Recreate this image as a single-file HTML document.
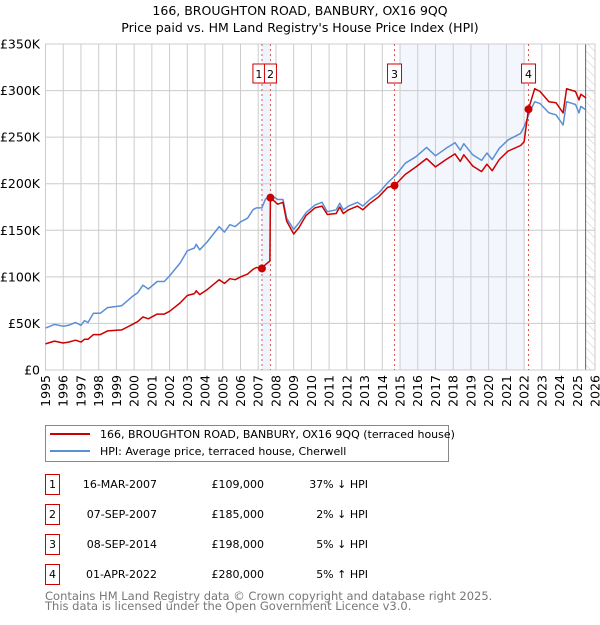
<!DOCTYPE html>
<html><head><meta charset="utf-8"><style>
body{margin:0;background:#fff;font-family:"Liberation Sans","DejaVu Sans",sans-serif;}
svg text{font-family:"DejaVu Sans","Liberation Sans",sans-serif;}
</style></head><body>
<svg id="c" width="600" height="620" xmlns="http://www.w3.org/2000/svg">
<defs><pattern id="hatch" width="6" height="6" patternUnits="userSpaceOnUse" patternTransform="rotate(-45)"><line x1="0" y1="0" x2="0" y2="6" stroke="#ccc" stroke-width="1"/></pattern></defs>
<text x="300" y="15" text-anchor="middle" font-size="12.5" fill="#000">166, BROUGHTON ROAD, BANBURY, OX16 9QQ</text>
<text x="300" y="32" text-anchor="middle" font-size="12.5" fill="#000">Price paid vs. HM Land Registry's House Price Index (HPI)</text>
<g id="grid"></g><g id="marks"></g>
<g>
<rect x="45.5" y="425.5" width="403" height="36" fill="#fff" stroke="#888"/>
<line x1="50" y1="434" x2="90" y2="434" stroke="#cc0000" stroke-width="2"/>
<text x="100" y="438" font-size="11">166, BROUGHTON ROAD, BANBURY, OX16 9QQ (terraced house)</text>
<line x1="50" y1="451" x2="90" y2="451" stroke="#5b8fd4" stroke-width="2"/>
<text x="100" y="455" font-size="11">HPI: Average price, terraced house, Cherwell</text>
</g>
<g id="table"></g>
<text x="45" y="600" font-size="11.5" fill="#777">Contains HM Land Registry data © Crown copyright and database right 2025.</text>
<text x="45" y="610" font-size="11.5" fill="#777">This data is licensed under the Open Government Licence v3.0.</text>
</svg>
<script>
const hpiYears=[1995.0,1995.5,1996.0,1996.3,1996.7,1997.0,1997.2,1997.4,1997.7,1998.1,1998.5,1999.3,1999.9,2000.2,2000.5,2000.8,2001.3,2001.7,2002.0,2002.6,2003.0,2003.4,2003.5,2003.7,2004.1,2004.8,2005.1,2005.4,2005.7,2006.0,2006.4,2006.7,2006.9,2007.2,2007.4,2007.7,2008.1,2008.4,2008.6,2009.0,2009.3,2009.7,2010.2,2010.6,2010.9,2011.4,2011.6,2011.8,2012.1,2012.6,2012.9,2013.3,2013.8,2014.3,2014.8,2015.3,2015.9,2016.5,2017.0,2017.6,2018.1,2018.4,2018.6,2019.1,2019.6,2019.9,2020.2,2020.6,2021.1,2021.8,2022.0,2022.3,2022.6,2022.9,2023.4,2023.8,2024.2,2024.4,2024.9,2025.1,2025.2,2025.5];
const hpiValues=[45,49,47,48,51,48,53,51,61,61,67,69,79,83,91,87,95,95,101,115,128,131,135,129,137,154,148,156,154,159,163,172,174,174,183,188,183,183,163,151,158,169,177,180,170,172,179,172,176,180,176,183,190,201,210,222,229,239,230,238,244,236,243,231,225,233,226,238,247,254,261,276,288,286,276,274,263,288,285,276,283,279];
const propYears=[1995.0,1995.5,1996.0,1996.3,1996.7,1997.0,1997.2,1997.4,1997.7,1998.1,1998.5,1999.3,1999.9,2000.2,2000.5,2000.8,2001.3,2001.7,2002.0,2002.6,2003.0,2003.4,2003.5,2003.7,2004.1,2004.8,2005.1,2005.4,2005.7,2006.0,2006.4,2006.7,2006.9,2007.21,2007.4,2007.66,2007.69,2008.1,2008.4,2008.6,2009.0,2009.3,2009.7,2010.2,2010.6,2010.9,2011.4,2011.6,2011.8,2012.1,2012.6,2012.9,2013.3,2013.8,2014.3,2014.69,2015.3,2015.9,2016.5,2017.0,2017.6,2018.1,2018.4,2018.6,2019.1,2019.6,2019.9,2020.2,2020.6,2021.1,2021.8,2022.0,2022.25,2022.6,2022.9,2023.4,2023.8,2024.2,2024.4,2024.9,2025.1,2025.2,2025.5];
const propValues=[28,31,29,30,32,30,33,33,38,38,42,43,49,52,57,55,60,60,63,72,80,82,85,81,86,97,93,98,97,100,103,108,110,109,113,117,185,178,180,160,146,153,166,174,176,167,168,175,168,172,176,172,179,186,196,198,210,218,227,218,226,232,224,231,219,213,221,214,226,235,241,245,280,302,299,288,287,276,302,299,290,296,292];
const saleLabels=["1","2","3","4"];
const saleYears=[2007.21,2007.69,2014.69,2022.25];
const saleValues=[109,185,198,280];
const saleDates=["16-MAR-2007","07-SEP-2007","08-SEP-2014","01-APR-2022"];
const salePrices=["£109,000","£185,000","£198,000","£280,000"];
const saleHpi=["37% ↓ HPI","2% ↓ HPI","5% ↓ HPI","5% ↑ HPI"];
const yTicks=[0,50,100,150,200,250,300,350];
const yTickLabels=["£0","£50K","£100K","£150K","£200K","£250K","£300K","£350K"];
const xTicks=[1995,1996,1997,1998,1999,2000,2001,2002,2003,2004,2005,2006,2007,2008,2009,2010,2011,2012,2013,2014,2015,2016,2017,2018,2019,2020,2021,2022,2023,2024,2025,2026];

const X0=45.5,X1=595,Y0=370,Y1=44;
const sx=y=>X0+(y-1995)*(X1-X0)/31;
const sy=v=>Y0-v*(Y0-Y1)/350;
const NS="http://www.w3.org/2000/svg";
function mk(tag,attrs,parent,txt){const e=document.createElementNS(NS,tag);for(const k in attrs)e.setAttribute(k,attrs[k]);if(txt!==undefined)e.textContent=txt;parent.appendChild(e);return e;}
const grid=document.getElementById('grid'),marks=document.getElementById('marks'),table=document.getElementById('table');
mk('rect',{x:X0,y:Y1,width:X1-X0,height:Y0-Y1,fill:'#fff'},grid);
// shaded regions
let r=mk('rect',{x:sx(saleYears[0]),y:Y1,width:sx(saleYears[1])-sx(saleYears[0]),height:Y0-Y1,fill:'#eef3fc'},grid);

r=mk('rect',{x:sx(2015),y:Y1,width:sx(2022)-sx(2015),height:Y0-Y1,fill:'#f3f6fd'},grid);

r=mk('rect',{x:sx(2025.47),y:Y1,width:X1-sx(2025.47),height:Y0-Y1,fill:'url(#hatch)'},grid);

yTicks.forEach((t,i)=>{
  mk('line',{x1:X0,x2:X1,y1:sy(t),y2:sy(t),stroke:'#ccc','stroke-width':1},grid);
  const tx=mk('text',{x:40,y:sy(t)+4.5,'text-anchor':'end','font-size':12.5},grid,yTickLabels[i]);
  
  
});
xTicks.forEach(t=>{
  mk('line',{x1:sx(t),x2:sx(t),y1:Y1,y2:Y0,stroke:'#ccc','stroke-width':1},grid);
  const tx=mk('text',{x:0,y:0,'text-anchor':'end','font-size':12.5,transform:`translate(${sx(t)+4.5},${Y0+5}) rotate(-90)`},grid,String(t));
  
  
});
mk('line',{x1:sx(2025.47),x2:sx(2025.47),y1:Y1,y2:Y0,stroke:'#666','stroke-width':1},grid);
mk('rect',{x:X0,y:Y1,width:X1-X0,height:Y0-Y1,fill:'none',stroke:'#ccc'},grid);
saleYears.forEach((y,i)=>{
  const l=mk('line',{x1:sx(y),x2:sx(y),y1:Y1,y2:Y0,stroke:'#e05555','stroke-width':1,'stroke-dasharray':'2,3'},marks);
  
  
});
const pts=(xs,vs)=>xs.map((y,i)=>sx(y).toFixed(1)+','+sy(vs[i]).toFixed(1)).join(' ');
let p=mk('polyline',{points:pts(hpiYears,hpiValues),fill:'none',stroke:'#5b8fd4','stroke-width':1.5,'stroke-linejoin':'round'},marks);

p=mk('polyline',{points:pts(propYears,propValues),fill:'none',stroke:'#cc0000','stroke-width':1.5,'stroke-linejoin':'round'},marks);

saleYears.forEach((y,i)=>{
  const c=mk('circle',{cx:sx(y),cy:sy(saleValues[i]),r:4,fill:'#cc0000'},marks);
  
  
  const bx=i===0?sx(y)-9:(i===1?sx(y)-6:sx(y)-7);
  const g=mk('g',{},marks);
  
  
  mk('rect',{x:bx,y:64,width:i<2?12:14,height:19,fill:'#fff',stroke:'#cc0000'},g);
  mk('text',{x:bx+(i<2?6:7),y:78,'text-anchor':'middle','font-size':11},g,saleLabels[i]);
});
saleLabels.forEach((lab,i)=>{
  const yy=483+i*30;
  const g=mk('g',{},table);
  
  
  mk('rect',{x:45.5,y:yy-8.5,width:14,height:20,fill:'#fff',stroke:'#cc0000'},g);
  mk('text',{x:52.5,y:yy+5,'text-anchor':'middle','font-size':11},g,lab);
  mk('text',{x:157,y:yy+5,'text-anchor':'end','font-size':11},g,saleDates[i]);
  mk('text',{x:264,y:yy+5,'text-anchor':'end','font-size':11},g,salePrices[i]);
  mk('text',{x:368,y:yy+5,'text-anchor':'end','font-size':11},g,saleHpi[i]);
});
</script>
</body></html>
